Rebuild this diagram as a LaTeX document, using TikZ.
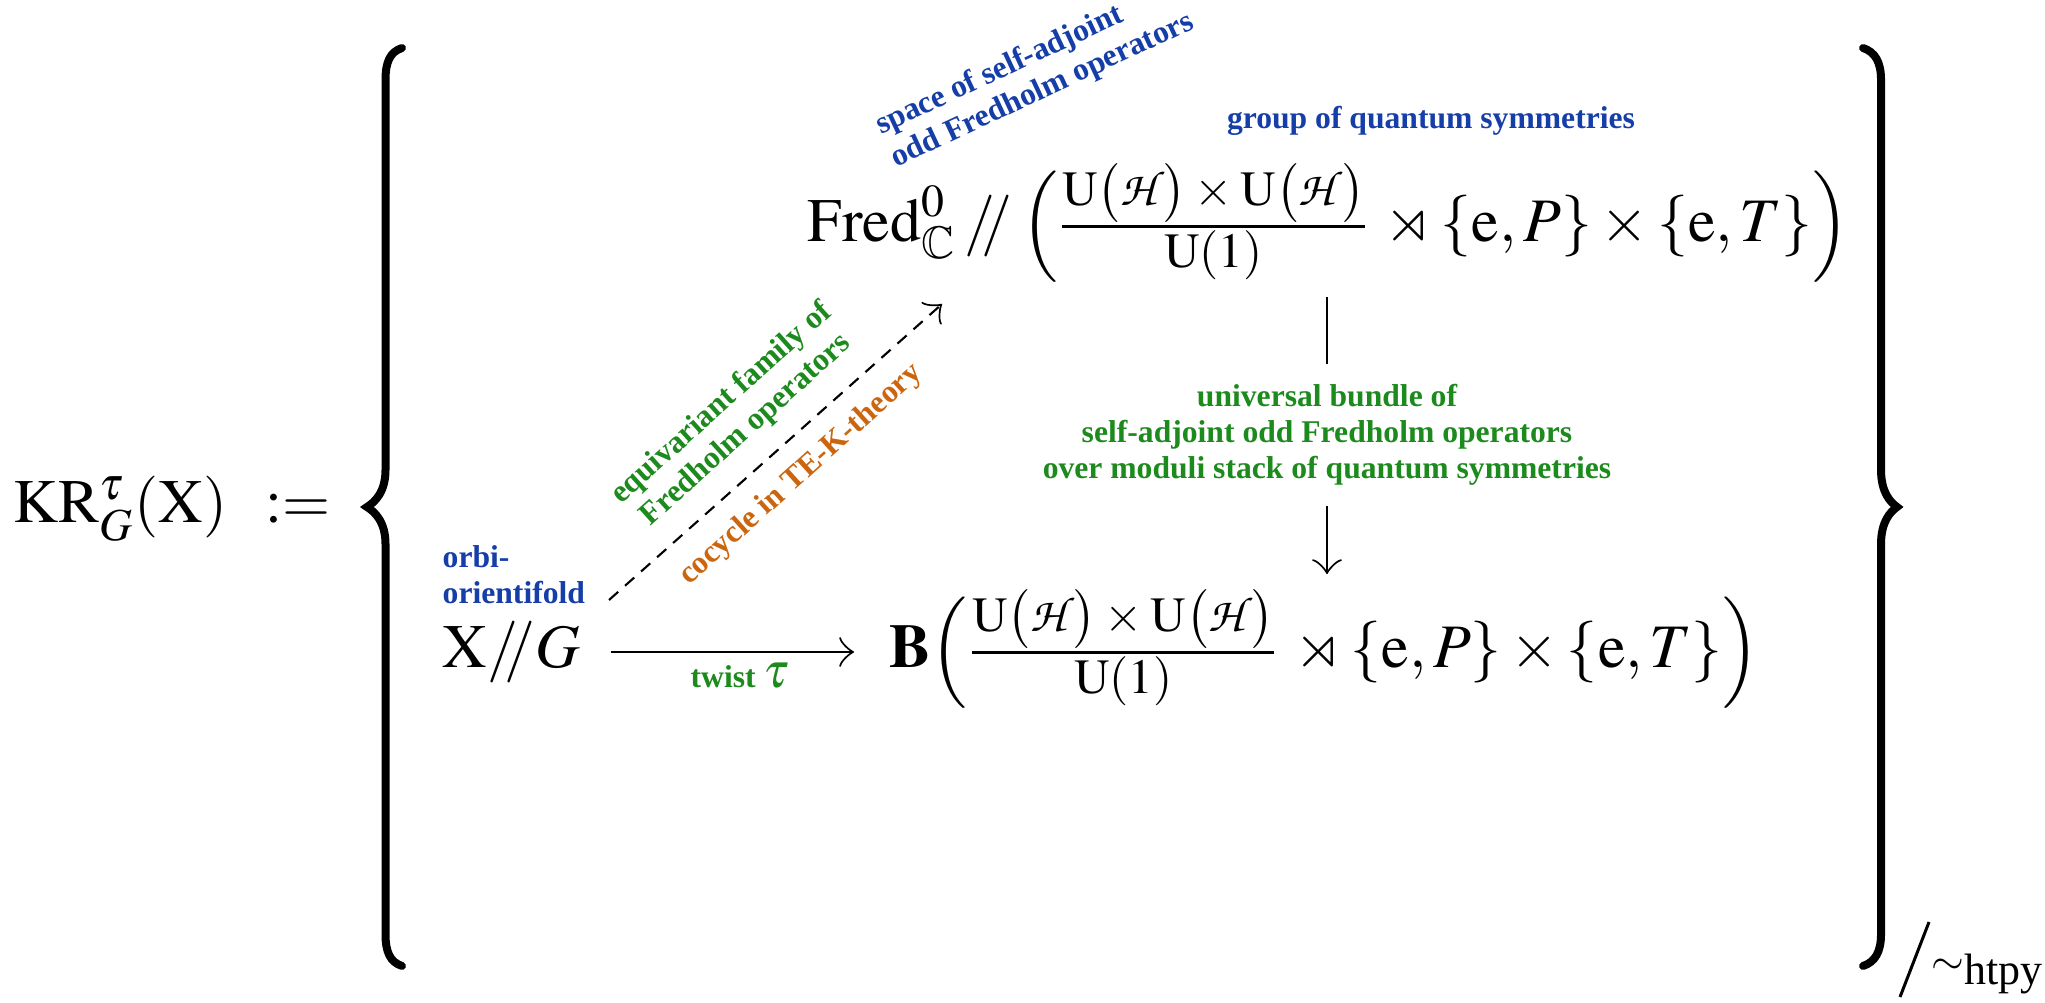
\documentclass[tikz,border=0pt]{standalone}
\usepackage{amsmath}
\usepackage{mathptmx}
\usepackage{amssymb}
\usepackage{fontspec}
\setmainfont{Liberation Serif}
\usetikzlibrary{arrows.meta,calc}
\DeclareMathAlphabet{\mathpzc}{OT1}{pzc}{m}{it}
\definecolor{lblue}{RGB}{22,62,168}
\definecolor{lgreen}{RGB}{28,138,28}
\definecolor{lorange}{RGB}{204,102,14}
\newcommand{\qnum}{\text{\fontsize{14}{16}\selectfont$\mathrm{U}\bigl(\mathpzc{H}\bigr)\mkern3mu{\times}\mkern3mu\mathrm{U}\bigl(\mathpzc{H}\bigr)$}}
\newcommand{\qden}{\text{\fontsize{14}{16}\selectfont$\mathrm{U}(1)$}}
\newcommand{\qgrp}{\tfrac{\qnum}{\qden}\,\rtimes\{\mathrm{e},P\}\times\{\mathrm{e},T\}}
\begin{document}
\begin{tikzpicture}[
  mth/.style={inner sep=0pt, font=\fontsize{17.6}{21}\selectfont},
  lbl/.style={inner sep=0pt, font=\fontsize{9}{10.3}\selectfont\bfseries},
  ln/.style={line width=0.6pt},
  arr/.style={line width=0.6pt, -{Classical TikZ Rightarrow[length=4.2pt,width=8.5pt]}},
  bracestroke/.style={line width=0.08cm, line cap=round}
]
\useasboundingbox (0,0) rectangle (20.45,10.02);

% left-hand side
\node[mth, anchor=base west] (kr) at (0.13,4.79) {$\mathrm{KR}^{\tau}_{G}(\mathrm{X})$};
\node[mth, anchor=base west] (def) at (2.65,4.79) {$:=$};

% braces
\draw[bracestroke] (4.02,9.54) .. controls (3.90,9.50) and (3.855,9.40) .. (3.855,9.22)
  -- (3.855,5.32) .. controls (3.855,5.10) and (3.75,5.00) .. (3.67,4.95)
  .. controls (3.75,4.90) and (3.855,4.80) .. (3.855,4.58)
  -- (3.855,0.68) .. controls (3.855,0.50) and (3.90,0.40) .. (4.02,0.36);
\draw[bracestroke] (18.63,9.54) .. controls (18.75,9.50) and (18.81,9.40) .. (18.81,9.22)
  -- (18.81,5.32) .. controls (18.81,5.10) and (18.90,5.00) .. (18.97,4.95)
  .. controls (18.90,4.90) and (18.81,4.80) .. (18.81,4.58)
  -- (18.81,0.68) .. controls (18.81,0.50) and (18.75,0.40) .. (18.63,0.36);

% quotient by homotopy
\draw[line width=0.03cm] (19.00,0.05) -- (19.29,0.80);
\node[inner sep=0pt, font=\fontsize{12}{14}\selectfont] (sim) at (19.48,0.35) {$\sim$};
\node[inner sep=0pt, anchor=base west, font=\fontsize{12.5}{14}\selectfont] (htpy) at (19.64,0.18) {htpy};

% main objects
\node[mth, anchor=base west] (top) at (8.07,7.60)
  {$\displaystyle\mathrm{Fred}^{0}_{\mathbb{C}}\mathbin{/\!\!/}\Bigl(\qgrp\Bigr)$};
\node[mth, anchor=base west] (bot) at (8.89,3.34)
  {$\displaystyle\mathbf{B}\Bigl(\qgrp\Bigr)$};
\node[mth, anchor=base west] (xg) at (4.42,3.34) {$\mathrm{X}{/\!\!/}G$};

% labels
\node[lbl, text=lblue, anchor=base] (grp) at (14.31,8.73) {group of quantum symmetries};
\node[lbl, text=lblue, align=left, rotate=25, anchor=north west] (space) at (8.71,8.88)
  {space of self-adjoint\\odd Fredholm operators};
\node[lbl, text=lblue, align=left, anchor=north west] (orbi) at (4.42,4.57) {orbi-\\orientifold};

% dashed cocycle arrow
\coordinate (dstart) at (6.09,4.02);
\coordinate (dend) at (9.42,6.98);
\draw[arr, dash pattern=on 3.5pt off 2.6pt] (dstart) -- (dend);
\node[lbl, text=lgreen, align=center, rotate=42] (equiv) at (7.34,5.85)
  {equivariant family of\\Fredholm operators};
\node[lbl, text=lorange, rotate=42] (cocyc) at (8.01,5.27) {cocycle in TE-K-theory};

% twist arrow
\draw[arr] ([xshift=0.30cm,yshift=0.16cm]xg.base east) -- ([xshift=-0.35cm,yshift=0.16cm]bot.base west);
\node[lbl, text=lgreen, anchor=base] (twist) at (7.40,3.14)
  {twist {\fontsize{14}{16}\selectfont\mdseries$\tau$}};

% vertical bundle arrow
\node[lbl, text=lgreen, align=center, inner xsep=2pt, inner ysep=0.2cm] (vl) at (13.27,5.67)
  {universal bundle of\\self-adjoint odd Fredholm operators\\over moduli stack of quantum symmetries};
\draw[ln] ($(top.south -| vl.north)+(0,-0.14)$) -- (vl.north);
\draw[arr] (vl.south) -- ($(bot.north -| vl.south)+(0,0.15)$);
\end{tikzpicture}
\end{document}
